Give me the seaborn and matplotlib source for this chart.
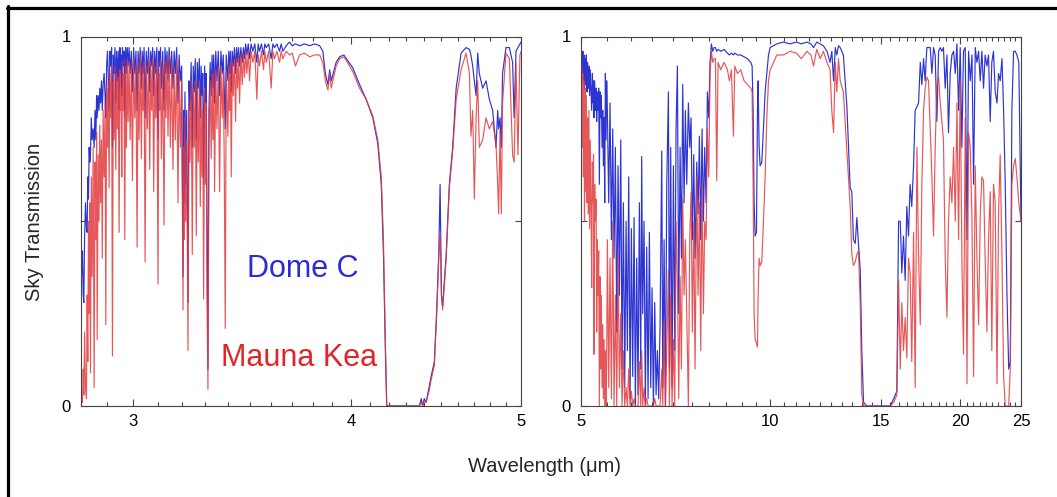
"""Sky transmission at Dome C vs Mauna Kea, 2.8-25 um, two log-wavelength panels."""
import matplotlib
matplotlib.use("Agg")
import matplotlib.pyplot as plt
import numpy as np
import seaborn as sns
from matplotlib.lines import Line2D
from matplotlib.ticker import FixedLocator, FixedFormatter, NullFormatter

# ---------------------------------------------------------------------------
# Data
# ---------------------------------------------------------------------------
wl_short = [
    2.800, 2.8037, 2.8074, 2.8100, 2.8123, 2.8150, 2.8185, 2.8221,
    2.8246, 2.8270, 2.8296, 2.8320, 2.8345, 2.8370, 2.8400, 2.8432,
    2.8470, 2.8507, 2.8540, 2.8570, 2.8600, 2.8620, 2.8658, 2.8690,
    2.8720, 2.8750, 2.8783, 2.8815, 2.8846, 2.8884, 2.8920, 2.8948,
    2.8980, 2.9011, 2.9040, 2.9075, 2.9105, 2.9139, 2.9170, 2.9203,
    2.9235, 2.9267, 2.9300, 2.9331, 2.9363, 2.9395, 2.9428, 2.9460,
    2.9490, 2.9511, 2.9540, 2.9563, 2.9590, 2.9615, 2.9650, 2.9680,
    2.9712, 2.9745, 2.9778, 2.9811, 2.9850, 2.9889, 2.9935, 2.9981,
    3.0027, 3.0073, 3.0120, 3.0165, 3.0205, 3.0244, 3.0290, 3.0337,
    3.0370, 3.0404, 3.0444, 3.0484, 3.0530, 3.0577, 3.0624, 3.0671,
    3.0711, 3.0752, 3.0792, 3.0832, 3.0873, 3.0913, 3.0960, 3.1008,
    3.1042, 3.1076, 3.1110, 3.1144, 3.1200, 3.1253, 3.1295, 3.1336,
    3.1377, 3.1418, 3.1466, 3.1515, 3.1570, 3.1625, 3.1673, 3.1722,
    3.1778, 3.1834, 3.1883, 3.1932, 3.1988, 3.2044, 3.2072, 3.2100,
    3.2128, 3.2156, 3.2199, 3.2255, 3.2298, 3.2340, 3.2390, 3.2439,
    3.2480, 3.2524, 3.2567, 3.2610, 3.2653, 3.2696, 3.2740, 3.2782,
    3.2818, 3.2854, 3.2890, 3.2926, 3.2970, 3.3012, 3.3040, 3.3070,
    3.3114, 3.3157, 3.3210, 3.3259, 3.3295, 3.3332, 3.3368, 3.3405,
    3.3456, 3.3508, 3.3566, 3.3625, 3.3685, 3.3744, 3.3790, 3.3832,
    3.3877, 3.3921, 3.3996, 3.4033, 3.4070, 3.4108, 3.4145, 3.4190,
    3.4235, 3.4290, 3.4340, 3.4385, 3.4431, 3.4476, 3.4521, 3.4580,
    3.4643, 3.4700, 3.4749, 3.4800, 3.4856, 3.4920, 3.4978, 3.5050,
    3.5132, 3.5220, 3.5317, 3.5380, 3.5441, 3.5530, 3.5628, 3.5690,
    3.5753, 3.5870, 3.5989, 3.6070, 3.6147, 3.6260, 3.6386, 3.6466,
    3.6546, 3.6707, 3.6868, 3.7000, 3.7155, 3.7360, 3.7600, 3.7860,
    3.8100, 3.8360, 3.8520, 3.8650, 3.8780, 3.8870, 3.8950, 3.9050,
    3.9200, 3.9380, 3.9600, 3.9730, 4.0070, 4.0430, 4.0780, 4.1140,
    4.1410, 4.1600, 4.1720, 4.1830, 4.1900, 4.3740, 4.3850, 4.3930,
    4.4020, 4.4130, 4.4300, 4.4420, 4.4610, 4.4750, 4.4870, 4.4950,
    4.5030, 4.5100, 4.5310, 4.5500, 4.5700, 4.5910, 4.6210, 4.6510,
    4.6720, 4.6810, 4.6920, 4.7020, 4.7130, 4.7230, 4.7330, 4.7540,
    4.7750, 4.7960, 4.8170, 4.8380, 4.8490, 4.8550, 4.8640, 4.8720,
    4.8800, 4.9020, 4.9240, 4.9450, 4.9550, 4.9670, 4.9800, 4.9930,
    5.000,
]
dome_short = [
    0.02, 0.35, 0.42, 0.30, 0.28, 0.45, 0.55, 0.48,
    0.47, 0.62, 0.56, 0.70, 0.66, 0.68, 0.78, 0.72,
    0.75, 0.70, 0.80, 0.72, 0.84, 0.78, 0.84, 0.80,
    0.86, 0.82, 0.88, 0.80, 0.87, 0.90, 0.84, 0.78,
    0.92, 0.96, 0.90, 0.80, 0.96, 0.92, 0.97, 0.70,
    0.95, 0.90, 0.97, 0.82, 0.96, 0.88, 0.96, 0.80,
    0.97, 0.90, 0.95, 0.84, 0.97, 0.92, 0.96, 0.78,
    0.97, 0.90, 0.97, 0.92, 0.97, 0.90, 0.96, 0.85,
    0.97, 0.90, 0.96, 0.80, 0.96, 0.90, 0.97, 0.86,
    0.96, 0.90, 0.97, 0.78, 0.96, 0.90, 0.97, 0.85,
    0.96, 0.92, 0.97, 0.84, 0.96, 0.90, 0.97, 0.72,
    0.96, 0.92, 0.97, 0.86, 0.96, 0.80, 0.97, 0.90,
    0.96, 0.88, 0.97, 0.90, 0.96, 0.86, 0.96, 0.90,
    0.97, 0.82, 0.95, 0.88, 0.92, 0.35, 0.80, 0.55,
    0.85, 0.60, 0.80, 0.28, 0.88, 0.80, 0.93, 0.70,
    0.92, 0.85, 0.94, 0.72, 0.93, 0.86, 0.94, 0.78,
    0.92, 0.84, 0.90, 0.60, 0.92, 0.82, 0.90, 0.55,
    0.10, 0.80, 0.93, 0.84, 0.95, 0.86, 0.95, 0.82,
    0.96, 0.88, 0.96, 0.84, 0.96, 0.90, 0.95, 0.86,
    0.75, 0.95, 0.88, 0.96, 0.90, 0.96, 0.85, 0.96,
    0.92, 0.97, 0.90, 0.97, 0.93, 0.97, 0.92, 0.97,
    0.93, 0.97, 0.94, 0.98, 0.95, 0.98, 0.94, 0.98,
    0.96, 0.98, 0.93, 0.98, 0.96, 0.98, 0.95, 0.98,
    0.97, 0.98, 0.94, 0.98, 0.97, 0.98, 0.96, 0.98,
    0.96, 0.975, 0.985, 0.975, 0.98, 0.975, 0.98, 0.975,
    0.98, 0.975, 0.96, 0.90, 0.87, 0.91, 0.88, 0.90,
    0.93, 0.945, 0.95, 0.94, 0.915, 0.87, 0.83, 0.78,
    0.71, 0.60, 0.41, 0.14, 0.00, 0.00, 0.02, 0.00,
    0.02, 0.01, 0.05, 0.08, 0.12, 0.26, 0.41, 0.60,
    0.30, 0.27, 0.41, 0.60, 0.70, 0.86, 0.955, 0.97,
    0.965, 0.95, 0.92, 0.88, 0.84, 0.955, 0.90, 0.86,
    0.88, 0.83, 0.80, 0.70, 0.80, 0.75, 0.78, 0.70,
    0.90, 0.97, 0.97, 0.93, 0.78, 0.96, 0.97, 0.98,
    0.985,
]
mk_short = [
    0.00, 0.02, 0.01, 0.10, 0.03, 0.20, 0.05, 0.02,
    0.30, 0.12, 0.50, 0.25, 0.55, 0.09, 0.62, 0.35,
    0.70, 0.05, 0.66, 0.45, 0.74, 0.18, 0.68, 0.50,
    0.76, 0.55, 0.72, 0.40, 0.80, 0.62, 0.82, 0.22,
    0.86, 0.70, 0.88, 0.59, 0.90, 0.78, 0.92, 0.135,
    0.88, 0.72, 0.92, 0.64, 0.90, 0.75, 0.89, 0.47,
    0.91, 0.80, 0.86, 0.62, 0.93, 0.80, 0.90, 0.45,
    0.92, 0.70, 0.94, 0.77, 0.93, 0.72, 0.92, 0.61,
    0.94, 0.78, 0.92, 0.43, 0.93, 0.72, 0.95, 0.67,
    0.92, 0.80, 0.93, 0.39, 0.92, 0.75, 0.94, 0.64,
    0.93, 0.80, 0.94, 0.58, 0.92, 0.78, 0.93, 0.33,
    0.90, 0.80, 0.94, 0.67, 0.92, 0.49, 0.93, 0.78,
    0.94, 0.73, 0.95, 0.70, 0.93, 0.64, 0.92, 0.72,
    0.94, 0.55, 0.90, 0.70, 0.88, 0.26, 0.70, 0.45,
    0.78, 0.50, 0.72, 0.15, 0.82, 0.66, 0.88, 0.41,
    0.86, 0.70, 0.88, 0.46, 0.86, 0.66, 0.88, 0.54,
    0.84, 0.62, 0.80, 0.29, 0.86, 0.60, 0.82, 0.30,
    0.045, 0.70, 0.88, 0.67, 0.90, 0.72, 0.90, 0.58,
    0.91, 0.75, 0.92, 0.58, 0.92, 0.78, 0.90, 0.66,
    0.21, 0.90, 0.73, 0.92, 0.80, 0.93, 0.62, 0.93,
    0.84, 0.94, 0.77, 0.94, 0.86, 0.95, 0.82, 0.95,
    0.87, 0.95, 0.89, 0.96, 0.90, 0.96, 0.88, 0.96,
    0.93, 0.96, 0.83, 0.95, 0.92, 0.96, 0.91, 0.96,
    0.93, 0.96, 0.86, 0.96, 0.94, 0.96, 0.93, 0.96,
    0.94, 0.96, 0.95, 0.955, 0.92, 0.95, 0.955, 0.945,
    0.95, 0.95, 0.93, 0.88, 0.855, 0.90, 0.86, 0.885,
    0.92, 0.94, 0.945, 0.935, 0.905, 0.86, 0.83, 0.785,
    0.72, 0.62, 0.45, 0.16, 0.00, 0.00, 0.01, 0.00,
    0.015, 0.01, 0.04, 0.07, 0.11, 0.25, 0.40, 0.47,
    0.30, 0.26, 0.40, 0.59, 0.69, 0.83, 0.91, 0.955,
    0.90, 0.73, 0.80, 0.56, 0.78, 0.88, 0.70, 0.72,
    0.78, 0.75, 0.77, 0.71, 0.60, 0.52, 0.75, 0.52,
    0.82, 0.955, 0.94, 0.68, 0.66, 0.93, 0.68, 0.95,
    0.96,
]

wl_long = [
    5.000, 5.005, 5.012, 5.020, 5.030, 5.040, 5.050, 5.060,
    5.070, 5.080, 5.092, 5.104, 5.116, 5.128, 5.140, 5.152,
    5.165, 5.178, 5.192, 5.205, 5.218, 5.230, 5.240, 5.250,
    5.262, 5.276, 5.290, 5.301, 5.314, 5.327, 5.340, 5.353,
    5.366, 5.379, 5.392, 5.406, 5.420, 5.432, 5.446, 5.459,
    5.472, 5.485, 5.498, 5.512, 5.539, 5.566, 5.594, 5.621,
    5.648, 5.676, 5.704, 5.732, 5.760, 5.788, 5.816, 5.844,
    5.873, 5.902, 5.930, 5.959, 5.989, 6.018, 6.047, 6.077,
    6.106, 6.136, 6.166, 6.196, 6.227, 6.249, 6.272, 6.303,
    6.333, 6.364, 6.396, 6.427, 6.459, 6.490, 6.522, 6.554,
    6.586, 6.618, 6.650, 6.683, 6.724, 6.749, 6.782, 6.815,
    6.848, 6.890, 6.915, 6.948, 6.982, 7.017, 7.051, 7.085,
    7.120, 7.155, 7.190, 7.225, 7.260, 7.296, 7.331, 7.367,
    7.412, 7.448, 7.485, 7.521, 7.558, 7.595, 7.642, 7.679,
    7.716, 7.754, 7.792, 7.830, 7.868, 7.907, 7.945, 7.984,
    8.023, 8.062, 8.102, 8.141, 8.181, 8.221, 8.261, 8.342,
    8.445, 8.548, 8.611, 8.675, 8.738, 8.781, 8.866, 8.976,
    9.086, 9.198, 9.311, 9.356, 9.390, 9.425, 9.460, 9.506,
    9.541, 9.564, 9.599, 9.634, 9.693, 9.752, 9.812, 9.872,
    9.933, 9.994, 10.12, 10.24, 10.49, 10.75, 11.00, 11.20,
    11.43, 11.60, 11.71, 11.85, 12.00, 12.14, 12.30, 12.44,
    12.52, 12.60, 12.68, 12.75, 12.83, 12.91, 13.06, 13.23,
    13.39, 13.47, 13.55, 13.64, 13.72, 13.80, 13.89, 13.97,
    14.06, 14.23, 15.50, 15.70, 15.88, 15.98, 16.08, 16.17,
    16.27, 16.37, 16.47, 16.57, 16.67, 16.77, 16.88, 16.98,
    17.09, 17.19, 17.30, 17.40, 17.51, 17.61, 17.72, 17.83,
    17.94, 18.05, 18.16, 18.27, 18.38, 18.50, 18.61, 18.72,
    18.83, 18.95, 19.07, 19.18, 19.30, 19.42, 19.54, 19.66,
    19.78, 19.90, 20.02, 20.14, 20.26, 20.39, 20.52, 20.64,
    20.77, 20.90, 21.02, 21.15, 21.28, 21.41, 21.54, 21.67,
    21.80, 21.93, 22.07, 22.20, 22.34, 22.47, 22.61, 22.75,
    22.90, 23.03, 23.17, 23.32, 23.46, 23.60, 23.75, 23.90,
    24.04, 24.18, 24.33, 24.48, 24.63, 24.80, 25.00,
]
dome_long = [
    0.94, 0.97, 0.92, 0.96, 0.90, 0.96, 0.88, 0.95,
    0.86, 0.94, 0.87, 0.95, 0.85, 0.93, 0.86, 0.92,
    0.84, 0.91, 0.85, 0.80, 0.90, 0.82, 0.88, 0.78,
    0.88, 0.80, 0.86, 0.77, 0.85, 0.80, 0.86, 0.60,
    0.85, 0.78, 0.84, 0.70, 0.80, 0.65, 0.78, 0.55,
    0.90, 0.72, 0.88, 0.80, 0.55, 0.82, 0.45, 0.75,
    0.40, 0.70, 0.20, 0.65, 0.30, 0.72, 0.10, 0.55,
    0.05, 0.50, 0.15, 0.62, 0.02, 0.48, 0.08, 0.51,
    0.00, 0.40, 0.03, 0.55, 0.10, 0.675, 0.25, 0.50,
    0.00, 0.43, 0.02, 0.47, 0.05, 0.32, 0.00, 0.28,
    0.03, 0.15, 0.02, 0.22, 0.69, 0.05, 0.45, 0.00,
    0.60, 0.85, 0.10, 0.70, 0.05, 0.65, 0.15, 0.75,
    0.92, 0.25, 0.70, 0.40, 0.87, 0.55, 0.80, 0.60,
    0.82, 0.70, 0.78, 0.45, 0.68, 0.40, 0.66, 0.52,
    0.73, 0.45, 0.75, 0.50, 0.70, 0.55, 0.85, 0.78,
    0.93, 0.98, 0.96, 0.97, 0.97, 0.96, 0.965, 0.96,
    0.965, 0.955, 0.95, 0.955, 0.95, 0.955, 0.95, 0.95,
    0.945, 0.94, 0.93, 0.92, 0.80, 0.55, 0.46, 0.47,
    0.80, 0.88, 0.70, 0.65, 0.66, 0.75, 0.85, 0.90,
    0.95, 0.97, 0.975, 0.98, 0.985, 0.98, 0.985, 0.98,
    0.985, 0.98, 0.97, 0.985, 0.98, 0.975, 0.96, 0.93,
    0.96, 0.88, 0.97, 0.95, 0.975, 0.97, 0.95, 0.81,
    0.59, 0.58, 0.45, 0.44, 0.51, 0.44, 0.37, 0.15,
    0.01, 0.00, 0.00, 0.02, 0.04, 0.50, 0.50, 0.36,
    0.46, 0.34, 0.54, 0.46, 0.60, 0.54, 0.65, 0.80,
    0.81, 0.82, 0.93, 0.87, 0.94, 0.88, 0.97, 0.97,
    0.97, 0.90, 0.97, 0.95, 0.77, 0.96, 0.97, 0.96,
    0.97, 0.86, 0.95, 0.74, 0.90, 0.95, 0.96, 0.90,
    0.98, 0.80, 0.97, 0.70, 0.96, 0.97, 0.45, 0.96,
    0.88, 0.95, 0.60, 0.97, 0.93, 0.96, 0.88, 0.96,
    0.86, 0.95, 0.92, 0.95, 0.77, 0.93, 0.96, 0.85,
    0.82, 0.90, 0.88, 0.94, 0.80, 0.60, 0.30, 0.10,
    0.12, 0.80, 0.96, 0.96, 0.95, 0.93, 0.50,
]
mk_long = [
    0.55, 0.05, 0.85, 0.92, 0.70, 0.90, 0.62, 0.88,
    0.50, 0.86, 0.58, 0.84, 0.55, 0.78, 0.52, 0.80,
    0.48, 0.72, 0.55, 0.32, 0.66, 0.55, 0.68, 0.14,
    0.60, 0.50, 0.56, 0.20, 0.45, 0.30, 0.42, 0.00,
    0.35, 0.10, 0.30, 0.05, 0.22, 0.02, 0.18, 0.00,
    0.15, 0.00, 0.12, 0.45, 0.05, 0.40, 0.02, 0.50,
    0.00, 0.30, 0.00, 0.42, 0.05, 0.25, 0.00, 0.15,
    0.00, 0.05, 0.00, 0.10, 0.00, 0.04, 0.00, 0.02,
    0.00, 0.00, 0.00, 0.12, 0.00, 0.15, 0.00, 0.05,
    0.00, 0.02, 0.00, 0.00, 0.00, 0.00, 0.00, 0.02,
    0.00, 0.00, 0.00, 0.00, 0.10, 0.00, 0.23, 0.00,
    0.15, 0.37, 0.00, 0.30, 0.00, 0.18, 0.00, 0.50,
    0.34, 0.02, 0.35, 0.10, 0.56, 0.30, 0.45, 0.25,
    0.00, 0.45, 0.58, 0.20, 0.50, 0.10, 0.62, 0.30,
    0.55, 0.15, 0.60, 0.25, 0.50, 0.45, 0.75, 0.62,
    0.90, 0.96, 0.93, 0.94, 0.94, 0.61, 0.93, 0.91,
    0.93, 0.91, 0.88, 0.91, 0.73, 0.92, 0.90, 0.91,
    0.88, 0.87, 0.86, 0.85, 0.60, 0.25, 0.18, 0.17,
    0.16, 0.30, 0.40, 0.38, 0.39, 0.50, 0.62, 0.78,
    0.88, 0.91, 0.93, 0.95, 0.95, 0.96, 0.955, 0.94,
    0.96, 0.95, 0.92, 0.965, 0.94, 0.96, 0.93, 0.91,
    0.80, 0.74, 0.93, 0.85, 0.94, 0.88, 0.85, 0.69,
    0.54, 0.41, 0.38, 0.39, 0.41, 0.42, 0.28, 0.03,
    0.00, 0.00, 0.00, 0.01, 0.03, 0.34, 0.10, 0.28,
    0.15, 0.24, 0.13, 0.40, 0.36, 0.12, 0.47, 0.05,
    0.70, 0.41, 0.22, 0.60, 0.80, 0.86, 0.89, 0.88,
    0.75, 0.62, 0.46, 0.70, 0.87, 0.89, 0.82, 0.77,
    0.72, 0.40, 0.24, 0.50, 0.62, 0.55, 0.70, 0.50,
    0.82, 0.45, 0.88, 0.40, 0.14, 0.78, 0.06, 0.74,
    0.70, 0.50, 0.08, 0.65, 0.40, 0.22, 0.52, 0.62,
    0.61, 0.40, 0.20, 0.45, 0.58, 0.15, 0.60, 0.55,
    0.06, 0.52, 0.68, 0.40, 0.08, 0.00, 0.00, 0.00,
    0.10, 0.60, 0.65, 0.67, 0.62, 0.55, 0.50,
]

short_major = [3, 4, 5]
short_minor = [2.8, 2.9, 3.1, 3.2, 3.3, 3.4, 3.5, 3.6, 3.7, 3.8, 3.9,
               4.1, 4.2, 4.3, 4.4, 4.5, 4.6, 4.7, 4.8, 4.9]
long_major = [5, 10, 15, 20, 25]
long_minor = [5.5, 6, 6.5, 7, 7.5, 8, 8.5, 9, 9.5, 10.5, 11, 11.5, 12, 12.5,
              13, 13.5, 14, 14.5, 15.5, 16, 16.5, 17, 17.5, 18, 18.5, 19,
              19.5, 20.5, 21, 21.5, 22, 22.5, 23, 23.5, 24, 24.5]

BLUE = "#2c34d2"
RED = "#e23a3c"
W, H = 1057, 497


def _style():
    sns.set_style("ticks")
    plt.rcParams["font.family"] = ["Liberation Sans", "DejaVu Sans"]
    plt.rcParams["axes.edgecolor"] = "#444444"
    plt.rcParams["xtick.color"] = "#444444"
    plt.rcParams["ytick.color"] = "#444444"
    plt.rcParams["xtick.labelcolor"] = "black"
    plt.rcParams["ytick.labelcolor"] = "black"


def _panel(ax, wl, dome, mk, xlim, major, minor):
    assert len(wl) == len(dome) == len(mk)
    sns.lineplot(x=wl, y=dome, ax=ax, color=BLUE, linewidth=0.85,
                 estimator=None, sort=False)
    sns.lineplot(x=wl, y=mk, ax=ax, color=RED, linewidth=0.85, alpha=0.85,
                 estimator=None, sort=False)
    ax.set_xscale("log")
    ax.set_xlim(*xlim)
    ax.set_ylim(0, 1)
    ax.xaxis.set_major_locator(FixedLocator(major))
    ax.xaxis.set_major_formatter(FixedFormatter([str(m) for m in major]))
    ax.xaxis.set_minor_locator(FixedLocator(minor))
    ax.xaxis.set_minor_formatter(NullFormatter())
    ax.set_yticks([0, 0.5, 1])
    ax.set_yticklabels(["0", "", "1"])
    ax.tick_params(which="both", direction="in", top=True, right=True,
                   labelsize=12, width=0.8)
    ax.tick_params(axis="x", which="major", length=5, pad=6)
    ax.tick_params(axis="x", which="minor", length=3)
    ax.tick_params(axis="y", length=4, pad=7)
    ax.set_xlabel("")
    ax.set_ylabel("")
    for s in ax.spines.values():
        s.set_linewidth(0.8)


def main():
    _style()
    fig = plt.figure(figsize=(W / 100, H / 100), dpi=100)
    ax1 = fig.add_axes([80.5 / W, 91 / H, 440.5 / W, 369.5 / H])
    ax2 = fig.add_axes([580.7 / W, 91 / H, 440.3 / W, 369.5 / H])

    _panel(ax1, wl_short, dome_short, mk_short, (2.8, 5.0), short_major, short_minor)
    _panel(ax2, wl_long, dome_long, mk_long, (5.0, 25.0), long_major, long_minor)

    fig.text(35 / W, 1 - 222 / H, "Sky Transmission", rotation=90,
             ha="center", va="center", fontsize=14.5)
    fig.text(545 / W, 1 - 466 / H, "Wavelength (\u03bcm)",
             ha="center", va="center", fontsize=14.5)
    fig.text(247 / W, 1 - 269 / H, "Dome C", ha="left", va="center",
             fontsize=22, color="#2a2ad6")
    fig.text(221 / W, 1 - 358 / H, "Mauna Kea", ha="left", va="center",
             fontsize=22, color="#e22428")

    # cropped black frame: left and top edges only
    fig.add_artist(Line2D([7.5 / W, 7.5 / W], [0, 1 - 6 / H],
                          transform=fig.transFigure, color="black", lw=2.3))
    fig.add_artist(Line2D([6.5 / W, 1], [1 - 7.5 / H, 1 - 7.5 / H],
                          transform=fig.transFigure, color="black", lw=2.3))

    fig.savefig("out.png", dpi=100)
    plt.close(fig)


if __name__ == "__main__":
    main()
